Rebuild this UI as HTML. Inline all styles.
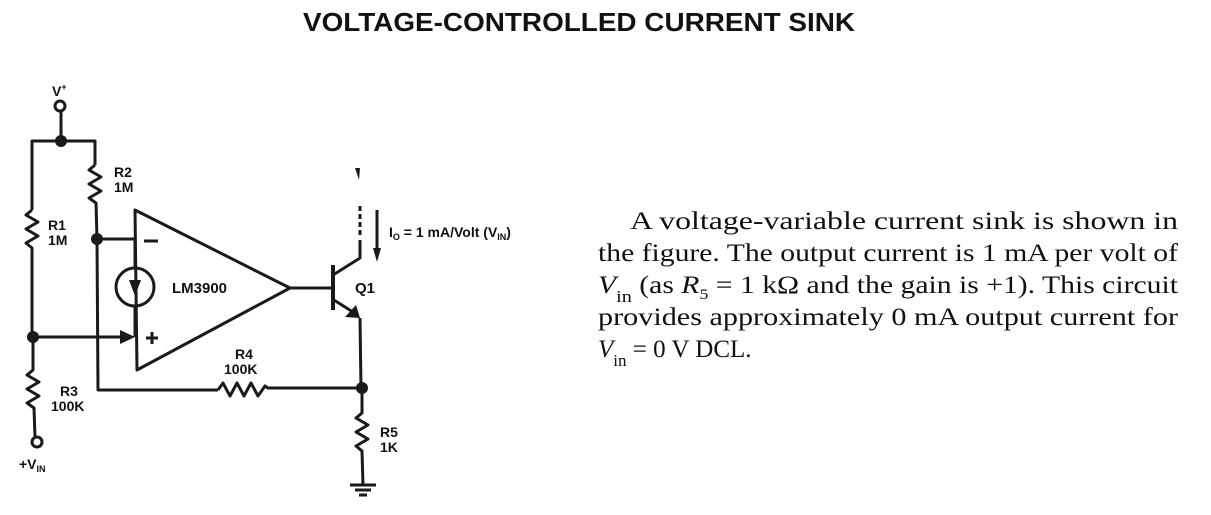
<!DOCTYPE html>
<html><head><meta charset="utf-8"><style>
html,body{margin:0;padding:0;background:#fff;}
svg{display:block}
</style></head><body>
<svg width="1211" height="515" viewBox="0 0 1211 515" xmlns="http://www.w3.org/2000/svg">
<rect width="1211" height="515" fill="#fff"/>
<text x="303" y="31" font-family="Liberation Sans, sans-serif" font-weight="bold" font-size="26" textLength="552" lengthAdjust="spacingAndGlyphs" fill="#111">VOLTAGE-CONTROLLED CURRENT SINK</text>

<g stroke="#1a1a1a" stroke-width="3" fill="none" stroke-linejoin="round">
 <circle cx="60" cy="106" r="5"/>
 <line x1="61" y1="111" x2="61" y2="141"/>
 <polyline points="32,210 32,141 95,141 95,165"/>
 <polyline points="32,210 26,215 38,222 26,229 38,236 26,243 32,248 32,337"/>
 <polyline points="33,337 33,370 27,375 39,382 27,389 39,396 27,403 34,408 35,437"/>
 <circle cx="37" cy="442" r="5"/>
 <polyline points="95,165 89,170 101,177 89,184 101,191 89,198 96,203 97,239"/>
 <polyline points="97,239 98,390 218,390"/>
 <polyline points="218,390 223,383 230,396 237,383 244,396 251,383 258,396 265,386 268,388 362,388"/>
 <line x1="33" y1="337" x2="120" y2="337"/>
 <line x1="97" y1="239" x2="135" y2="239"/>
 <polygon points="135,210 290,288 137,370"/>
 <line x1="135" y1="239" x2="135" y2="268"/>
 <circle cx="135" cy="287" r="19"/>
 <line x1="135" y1="306" x2="135" y2="337"/>
 <line x1="144" y1="241" x2="158" y2="241"/>
 <line x1="146" y1="338" x2="158" y2="338"/><line x1="152" y1="332" x2="152" y2="344"/>
 <line x1="290" y1="288" x2="333" y2="288"/>
 <line x1="333" y1="265" x2="333" y2="310" stroke-width="4"/>
 <polyline points="333,275 360,258 360,240"/>
 <line x1="360" y1="206" x2="360" y2="238" stroke-dasharray="5,3"/>
 <polyline points="334,300 356,314"/>
 <line x1="360" y1="318" x2="361" y2="388"/>
 <polyline points="362,388 362,413 356,418 368,425 356,432 368,439 356,446 362,451 363,485"/>
 <line x1="350" y1="485" x2="376" y2="485"/>
 <line x1="355" y1="490" x2="371" y2="490"/>
 <line x1="359" y1="495" x2="367" y2="495"/>
 <line x1="377" y1="210" x2="377" y2="250"/>
</g>
<g fill="#1a1a1a">
 <circle cx="61" cy="141" r="6"/>
 <circle cx="97" cy="239" r="6"/>
 <circle cx="33" cy="337" r="6"/>
 <circle cx="362" cy="388" r="6"/>
 <polygon points="120,330 135,337 120,344"/>
 <polygon points="129,280 141,280 135,296"/>
 <polygon points="345,317 360,318 356,305"/>
 <polygon points="373,248 381,248 377,262"/>
 <polygon points="355,168 360,168 359,180"/>
</g>
<g font-family="Liberation Sans, sans-serif" font-weight="bold" font-size="14" fill="#111">
 <text x="52" y="96">V<tspan font-size="9" dy="-6">+</tspan></text>
 <text x="114" y="177">R2</text><text x="114" y="192">1M</text>
 <text x="48" y="230">R1</text><text x="48" y="245">1M</text>
 <text x="172" y="293" font-size="15">LM3900</text>
 <text x="355" y="293" font-size="15">Q1</text>
 <text x="235" y="359">R4</text><text x="224" y="374">100K</text>
 <text x="60" y="396">R3</text><text x="51" y="411">100K</text>
 <text x="380" y="437">R5</text><text x="380" y="452">1K</text>
 <text x="19" y="469">+V<tspan font-size="9" dy="3">IN</tspan></text>
 <text x="389" y="237" font-size="14">I<tspan font-size="9" dy="3">O</tspan><tspan dy="-3"> = 1 mA/Volt (V</tspan><tspan font-size="9" dy="3">IN</tspan><tspan dy="-3">)</tspan></text>
</g>
<g font-family="Liberation Serif, serif" font-size="25" fill="#111">
 <text x="630" y="229" textLength="548" lengthAdjust="spacingAndGlyphs">A voltage-variable current sink is shown in</text>
 <text x="598" y="261" textLength="580" lengthAdjust="spacingAndGlyphs">the figure. The output current is 1 mA per volt of</text>
 <text x="598" y="293" textLength="580" lengthAdjust="spacingAndGlyphs"><tspan font-style="italic">V</tspan><tspan font-size="17" dy="9">in</tspan><tspan dy="-9"> (as </tspan><tspan font-style="italic">R</tspan><tspan font-size="15" dy="6">5</tspan><tspan dy="-6"> = 1 kΩ and the gain is +1). This circuit</tspan></text>
 <text x="598" y="325" textLength="580" lengthAdjust="spacingAndGlyphs">provides approximately 0 mA output current for</text>
 <text x="598" y="357"><tspan font-style="italic">V</tspan><tspan font-size="17" dy="9">in</tspan><tspan dy="-9"> = 0 V DCL.</tspan></text>
</g>
</svg>
</body></html>
